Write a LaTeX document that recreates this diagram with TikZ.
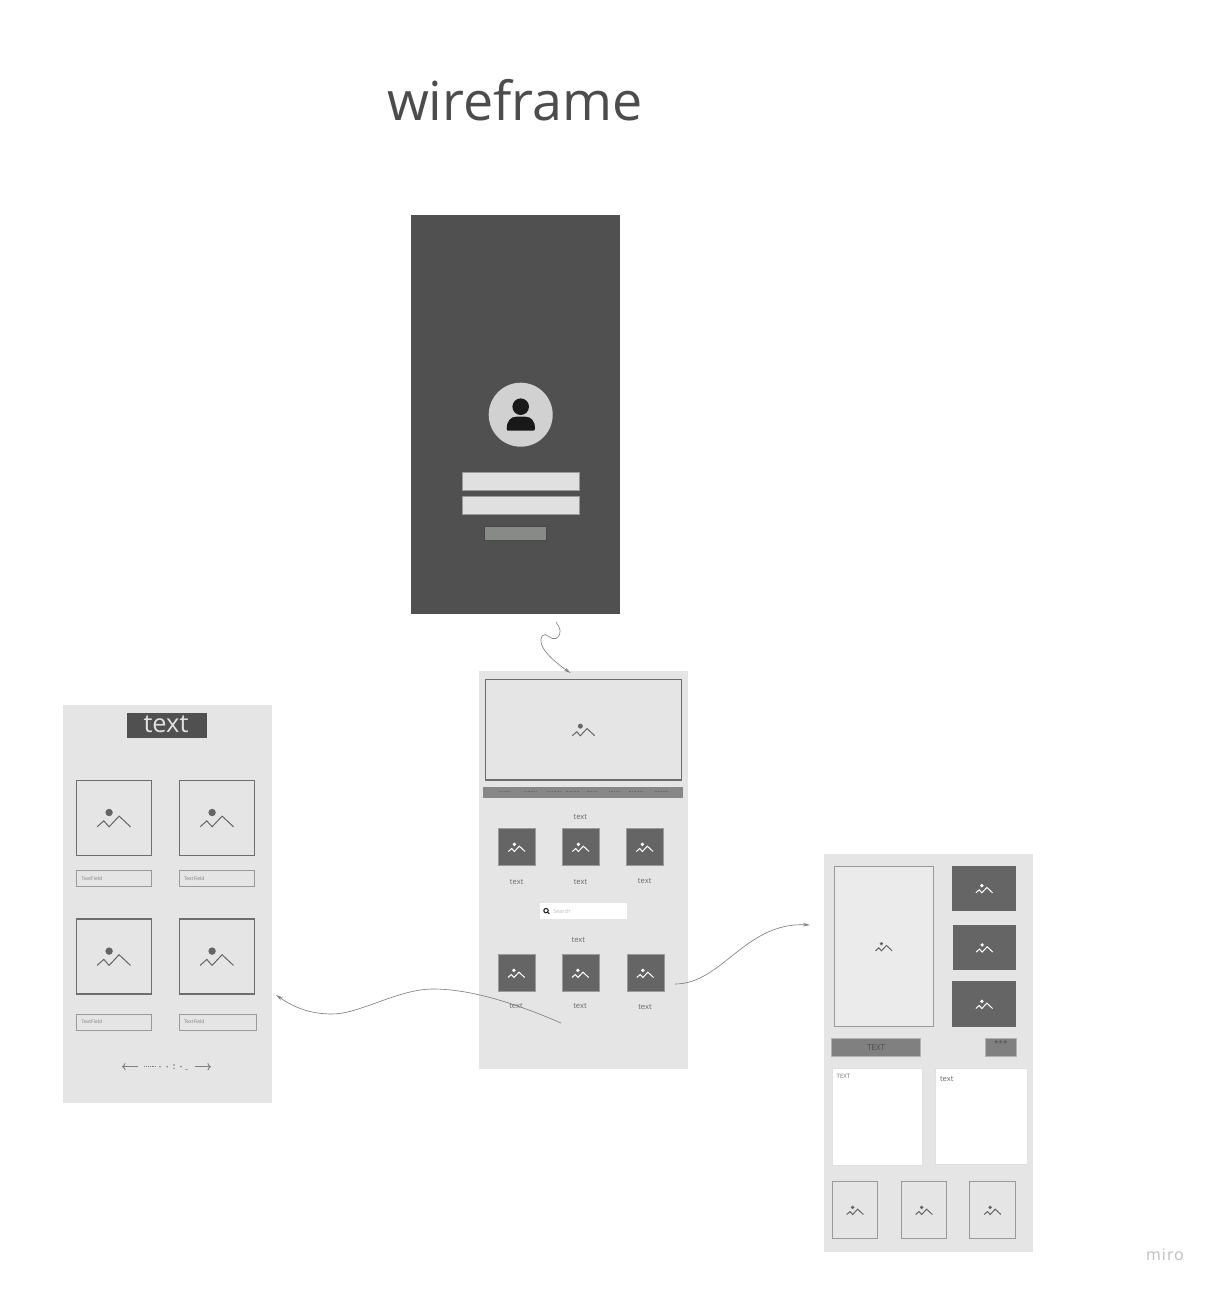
\documentclass[tikz,border=0pt]{standalone}
\usepackage{fontspec}
\setmainfont{Open Sans}
\usetikzlibrary{positioning}
\usetikzlibrary{arrows.meta}
\definecolor{darkscreen}{HTML}{505050}
\definecolor{lightscreen}{HTML}{E5E5E5}
\definecolor{thumbgray}{HTML}{656565}
\definecolor{boxline}{HTML}{6E6E6E}
\definecolor{softline}{HTML}{9A9A9A}
\definecolor{labelgray}{HTML}{6A6A6A}
\definecolor{fieldgray}{HTML}{DFE0DF}
\definecolor{entergray}{HTML}{878A87}

\begin{document}
\begin{tikzpicture}[
            x=1pt, y=-1pt,
            outer sep=0pt,
            screennode/.style={rectangle, fill=lightscreen, inner sep=0pt, minimum width=209pt, minimum height=398pt},
            photonode/.style={rectangle, draw=boxline, line width=1.3pt, inner sep=0pt, minimum size=75pt},
            softnode/.style={rectangle, draw=softline, line width=.9pt, inner sep=0pt},
            thumbnode/.style={rectangle, fill=thumbgray, draw=softline, line width=.4pt, inner sep=0pt, minimum size=37pt},
            sidenode/.style={rectangle, fill=thumbgray, inner sep=0pt, minimum width=63.5pt, minimum height=45.5pt},
            fieldnode/.style={rectangle, draw=softline, fill=lightscreen, line width=.9pt, inner sep=0pt, minimum height=16pt},
            loginnode/.style={rectangle, draw=gray!80, fill=fieldgray, line width=.8pt, inner sep=0pt, minimum width=117pt, minimum height=18pt},
            whitenode/.style={rectangle, fill=white, draw=black!12, line width=.6pt, inner sep=0pt},
            tagnode/.style={rectangle, fill=black!50, draw=black!30, line width=.7pt, text=black!70, inner sep=0pt, font=\fontsize{8}{8}\selectfont},
            textnode/.style={inner sep=0pt, text=labelgray, font=\fontsize{7.6}{8}\selectfont},
            tinynode/.style={inner sep=0pt, text=gray, font=\fontsize{5}{6}\selectfont, anchor=west},
            dotline/.style={dash pattern=on .9pt off .7pt, line width=1pt, draw=black!58},
            link/.style={draw=black!50, line width=.65pt, -{Stealth[length=7pt,width=3.5pt]}},
            pagerarrow/.style={draw=gray, line width=.9pt, ->},
            photoicon/.pic={
                \fill (-4.7,-5.3) circle (3.7);
                \draw[line width=1pt] (-16.7,9) -- (-10,3) -- (-4.7,9) -- (5.3,-1.7) -- (16.7,9);
            },
        ]
        \useasboundingbox (0,0) rectangle (1212,1289);

        \node[inner sep=0pt, text=black!70, font=\fontsize{53.8}{60}\selectfont] (title) at (515,100) {wireframe};

        % login screen
        \node[rectangle, fill=darkscreen, inner sep=0pt, minimum width=209pt, minimum height=398pt] (login) at (515.5,414.5) {};
        \node[circle, fill=black!18, inner sep=0pt, minimum size=64pt] (avatar) at (520.7,414.7) {};
        \node[circle, fill=black!90, inner sep=0pt, minimum size=16.6pt] (head) at (520.7,406.7) {};
        \fill[black!90] (506.7,428.5) .. controls (506.7,421) and (511,416.7) .. (516,416.7) -- (525.5,416.7)
            .. controls (531,416.7) and (535,421) .. (535,428.5) .. controls (535,430.2) and (534,430.7) .. (533,430.7)
            -- (508.5,430.7) .. controls (507.4,430.7) and (506.7,430.2) .. (506.7,428.5) -- cycle;
        \node[loginnode] (user) at (520.7,481.2) {};
        \node[loginnode] (pass) [below=6pt of user] {};
        \node[rectangle, fill=entergray, draw=black!72, line width=.8pt, inner sep=0pt, minimum width=62pt, minimum height=13.3pt] (enter) at (515.7,533.4) {};

        % home screen
        \node[screennode] (home) at (583.2,869.5) {};
        \node[photonode, minimum width=196.4pt, minimum height=100.7pt] (hero) at (583.5,729.7) {};
        \pic[scale=.67, color=thumbgray] at (hero) {photoicon};
        \node[rectangle, fill=black!47, inner sep=0pt, minimum width=200pt, minimum height=11pt] (menu) at (583.3,792.2) {};
        \draw[dotline] (499.2,791) -- (510.2,791);
        \draw[dotline] (524.3,791) -- (536.3,791);
        \draw[dotline] (547.2,791) -- (560.2,791);
        \draw[dotline] (565.5,791) -- (578.5,791);
        \draw[dotline] (586.5,791) -- (597.5,791);
        \draw[dotline] (609.2,791) -- (620.2,791);
        \draw[dotline] (628.8,791) -- (641.8,791);
        \draw[dotline] (654.5,791) -- (667.5,791);

        \node[textnode] (hometop) at (580.3,816.7) {text};
        \node[thumbnode] (thumbA) at (516.7,847) {};
        \node[thumbnode] (thumbB) [right=27pt of thumbA] {};
        \node[thumbnode] (thumbC) [right=27pt of thumbB] {};
        \pic[scale=.5, color=white] at (thumbA) {photoicon};
        \pic[scale=.5, color=white] at (thumbB) {photoicon};
        \pic[scale=.5, color=white] at (thumbC) {photoicon};
        \node[textnode] (textA) at (516.7,881.7) {text};
        \node[textnode] (textB) at (580.5,881.7) {text};
        \node[textnode] (textC) at (644.7,880.7) {text};

        \node[rectangle, fill=white, inner sep=0pt, minimum width=87.3pt, minimum height=16pt] (search) at (583.7,911) {};
        \draw[black!85, line width=1.1pt] (546,910.6) circle (2.2) (547.7,912.3) -- (549.3,914);
        \node[inner sep=0pt, text=black!25, anchor=west, font=\fontsize{5.6}{6}\selectfont] (searchtext) at (553,911) {Search};

        \node[textnode] (homemid) at (578.3,939.7) {text};
        \node[thumbnode] (thumbD) at (516.3,973) {};
        \node[thumbnode] (thumbE) [right=27pt of thumbD] {};
        \node[thumbnode] (thumbF) at (645.2,973) {};
        \pic[scale=.5, color=white] at (thumbD) {photoicon};
        \pic[scale=.5, color=white] at (thumbE) {photoicon};
        \pic[scale=.5, color=white] at (thumbF) {photoicon};
        \node[textnode] (textD) at (516,1005.7) {text};
        \node[textnode] (textE) at (580,1005.7) {text};
        \node[textnode] (textF) at (645,1006.7) {text};

        % gallery screen
        \node[screennode] (gallery) at (167,903.8) {};
        \node[rectangle, fill=darkscreen, inner sep=0pt, minimum width=79.4pt, minimum height=24.4pt] (heading) at (167,725.5) {};
        \node[inner sep=0pt, text=black!12, font=\fontsize{25.4}{26}\selectfont] (headingtext) at (166,724) {text};
        \node[photonode] (photoA) at (113.8,817.8) {};
        \node[photonode] (photoB) [right=28pt of photoA] {};
        \node[photonode] (photoC) at (113.8,956.4) {};
        \node[photonode] (photoD) [right=28pt of photoC] {};
        \pic[color=thumbgray] at (photoA) {photoicon};
        \pic[color=thumbgray] at (photoB) {photoicon};
        \pic[color=thumbgray] at (photoC) {photoicon};
        \pic[color=thumbgray] at (photoD) {photoicon};
        \node[fieldnode, minimum width=75pt] (fieldA) at (113.8,878.3) {};
        \node[fieldnode, minimum width=75pt] (fieldB) at (216.7,878.3) {};
        \node[fieldnode, minimum width=75pt] (fieldC) at (113.8,1022) {};
        \node[fieldnode, minimum width=76.7pt] (fieldD) at (217.6,1022) {};
        \node[tinynode] at (81.7,878.3) {TextField};
        \node[tinynode] at (184,878.3) {TextField};
        \node[tinynode] at (81.7,1022) {TextField};
        \node[tinynode] at (184,1022) {TextField};

        \coordinate (prevA) at (138,1066.7);
        \coordinate (prevB) at (122,1066.7);
        \coordinate (nextA) at (195,1066.7);
        \coordinate (nextB) at (211,1066.7);
        \draw[pagerarrow] (prevA) -- (prevB);
        \draw[pagerarrow] (nextA) -- (nextB);
        \draw[dash pattern=on 1.1pt off .7pt, line width=1.2pt, draw=gray] (144.3,1066.7) -- (156,1066.7);
        \fill[gray] (160,1066.7) circle (.9) (167.3,1066.7) circle (.9) (174,1065) circle (.8) (174,1068.3) circle (.8) (181,1066.7) circle (.9);
        \draw[gray!70, line width=.6pt] (184.5,1069) -- (188,1069);

        % detail screen
        \node[screennode] (detail) at (928,1053) {};
        \node[softnode, fill=black!8, minimum width=99pt, minimum height=160pt] (tall) at (883.8,946.3) {};
        \pic[scale=.5, color=thumbgray] at (tall) {photoicon};
        \node[sidenode] (sideA) at (984.2,888.3) {};
        \node[sidenode] (sideB) at (984.5,947.6) {};
        \node[sidenode] (sideC) at (984.2,1004) {};
        \pic[scale=.5, color=white] at (sideA) {photoicon};
        \pic[scale=.5, color=white] at (sideB) {photoicon};
        \pic[scale=.5, color=white] at (sideC) {photoicon};
        \node[tagnode, minimum width=89pt, minimum height=18pt] (tagA) at (876.2,1047.7) {TEXT};
        \node[tagnode, minimum width=31.7pt, minimum height=17.7pt] (tagB) at (1000.8,1047.2) {};
        \node[inner sep=0pt, text=black!70, font=\fontsize{8}{8}\selectfont] (stars) at (1000.8,1043.7) {***};
        \node[whitenode, minimum width=90pt, minimum height=96.6pt] (noteA) at (877.7,1117) {};
        \node[whitenode, minimum width=92.3pt, minimum height=96.3pt] (noteB) at (981.2,1116.2) {};
        \node[inner sep=0pt, text=labelgray, anchor=west, font=\fontsize{6}{6}\selectfont] (noteAtext) at (836.7,1076.7) {TEXT};
        \node[inner sep=0pt, text=labelgray, anchor=west, font=\fontsize{7.6}{8}\selectfont] (noteBtext) at (940,1079.3) {text};
        \node[softnode, minimum width=45.4pt, minimum height=57.4pt] (smallA) at (855,1210) {};
        \node[softnode, minimum width=45.4pt, minimum height=57.4pt] (smallB) at (924,1210) {};
        \node[softnode, minimum width=46.4pt, minimum height=57.4pt] (smallC) at (992.5,1210) {};
        \pic[scale=.5, color=thumbgray] at (smallA) {photoicon};
        \pic[scale=.5, color=thumbgray] at (smallB) {photoicon};
        \pic[scale=.5, color=thumbgray] at (smallC) {photoicon};

        \node[inner sep=0pt, text=black!25, font=\fontsize{16}{16}\addfontfeature{LetterSpace=6}\selectfont] (miro) at (1165,1255) {miro};

        \coordinate (loginout) at (556,622.3);
        \coordinate (homein) at (570.5,673);
        \coordinate (homeright) at (675,984);
        \coordinate (detailin) at (810,925);
        \coordinate (homeleft) at (561,1023);
        \coordinate (galleryin) at (276,995);

        \draw[link] (loginout) .. controls (560,627) and (563,634) .. (556,638.5)
            .. controls (551,641) and (546,631) .. (542,636)
            .. controls (537,645) and (549,658) .. (homein);
        \draw[link] (homeright) .. controls (722,984) and (745,922) .. (detailin);
        \draw[link] (homeleft) .. controls (515,1003) and (470,989) .. (433,989)
            .. controls (398,989) and (360,1014) .. (332,1014)
            .. controls (308,1014) and (292,1006) .. (galleryin);
    \end{tikzpicture}
\end{document}
